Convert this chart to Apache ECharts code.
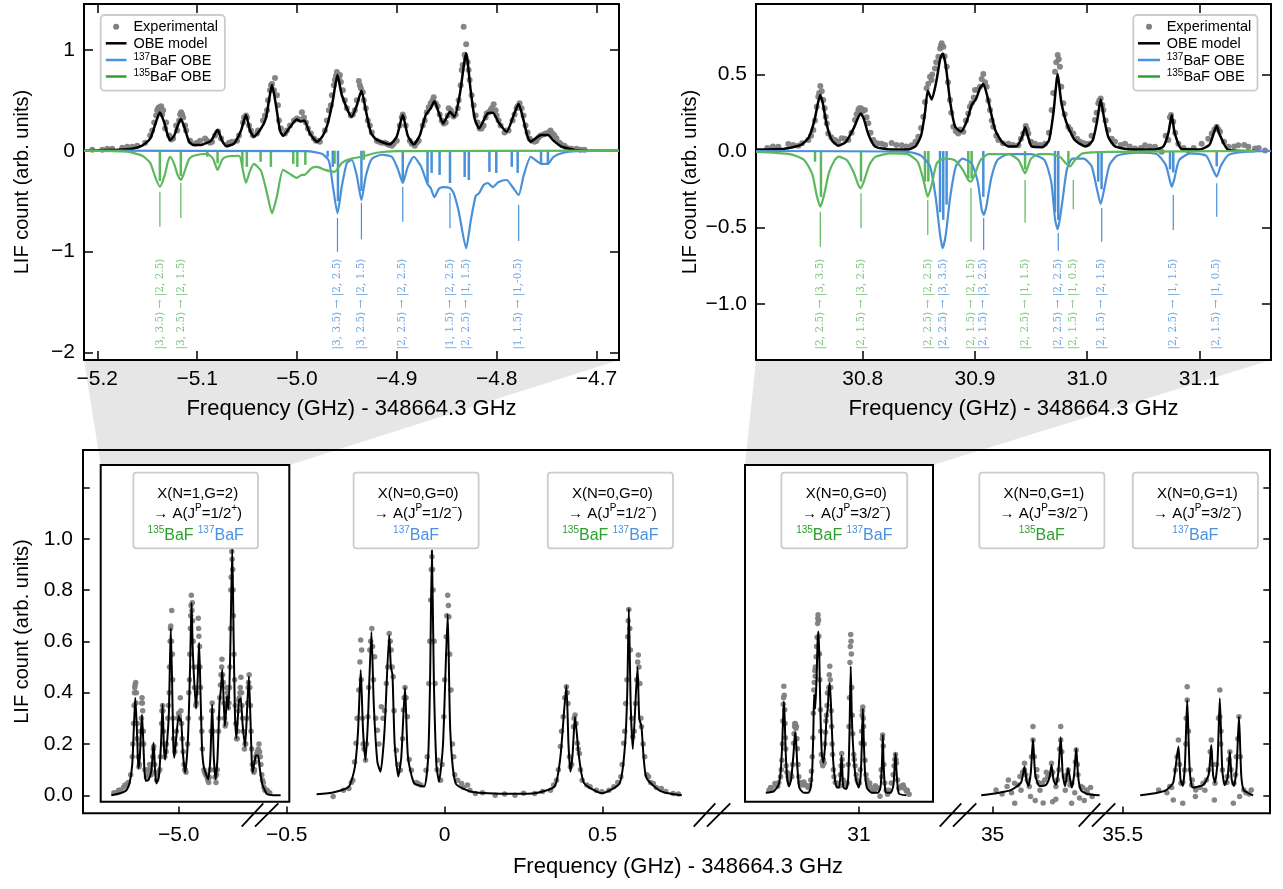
<!DOCTYPE html>
<html><head><meta charset="utf-8">
<script src="https://cdn.jsdelivr.net/npm/echarts@6/dist/echarts.min.js"></script>
<style>html,body{margin:0;padding:0;background:#fff}#c{width:1283px;height:889px}</style>
</head><body><div id="c"></div>
<script>
// ---------------- DATA ----------------
// Top-left panel: X(N=1,G=2) -> A(1/2+) region (GHz offset from 348664.3 GHz)
const tlModel = [[-5.2133,0],[-5.18,0.01],[-5.165,0.02],[-5.155,0.05],[-5.147,0.12],[-5.142,0.26],[-5.1373,0.38],[-5.133,0.28],[-5.129,0.14],[-5.127,0.106],[-5.123,0.15],[-5.119,0.26],[-5.1163,0.314],[-5.113,0.24],[-5.108,0.09],[-5.1036,0.056],[-5.095,0.06],[-5.086,0.1],[-5.0795,0.205],[-5.075,0.1],[-5.0707,0.046],[-5.063,0.07],[-5.056,0.2],[-5.0511,0.354],[-5.047,0.2],[-5.0432,0.139],[-5.036,0.22],[-5.0311,0.32],[-5.028,0.5],[-5.025,0.651],[-5.021,0.45],[-5.017,0.2],[-5.0139,0.146],[-5.008,0.22],[-5.0002,0.31],[-4.996,0.29],[-4.9926,0.30],[-4.987,0.17],[-4.9797,0.089],[-4.974,0.15],[-4.9691,0.27],[-4.964,0.5],[-4.9594,0.75],[-4.955,0.55],[-4.9451,0.337],[-4.940,0.45],[-4.9354,0.595],[-4.931,0.4],[-4.926,0.18],[-4.9203,0.11],[-4.9071,0.063],[-4.900,0.14],[-4.894,0.354],[-4.889,0.15],[-4.883,0.063],[-4.877,0.15],[-4.871,0.354],[-4.866,0.42],[-4.8623,0.49],[-4.858,0.38],[-4.8537,0.27],[-4.850,0.33],[-4.8467,0.387],[-4.8423,0.337],[-4.837,0.55],[-4.8305,0.965],[-4.826,0.6],[-4.822,0.32],[-4.8175,0.222],[-4.813,0.30],[-4.8089,0.371],[-4.8037,0.377],[-4.798,0.28],[-4.7899,0.189],[-4.783,0.35],[-4.7779,0.463],[-4.773,0.3],[-4.769,0.14],[-4.7658,0.089],[-4.760,0.13],[-4.7555,0.155],[-4.7486,0.155],[-4.743,0.1],[-4.735,0.04],[-4.7285,0.023],[-4.721,0.005],[-4.70,0],[-4.6774,0]];
const tlExp = [[-5.205,0.01],[-5.195,0.01],[-5.19,0.02],[-5.185,0.02],[-5.175,0.03],[-5.17,0.04],[-5.165,0.04],[-5.16,0.05],[-5.152,0.08],[-5.147,0.15],[-5.145,0.2],[-5.143,0.28],[-5.141,0.35],[-5.14,0.40],[-5.139,0.42],[-5.138,0.43],[-5.136,0.44],[-5.135,0.36],[-5.134,0.40],[-5.132,0.22],[-5.131,0.28],[-5.128,0.15],[-5.126,0.11],[-5.124,0.12],[-5.121,0.25],[-5.12,0.20],[-5.118,0.30],[-5.117,0.36],[-5.116,0.38],[-5.115,0.36],[-5.114,0.33],[-5.112,0.25],[-5.111,0.20],[-5.107,0.10],[-5.102,0.07],[-5.1,0.08],[-5.097,0.10],[-5.092,0.12],[-5.09,0.1],[-5.087,0.08],[-5.085,0.09],[-5.082,0.15],[-5.08,0.18],[-5.079,0.19],[-5.076,0.12],[-5.07,0.06],[-5.068,0.08],[-5.065,0.09],[-5.06,0.1],[-5.058,0.15],[-5.054,0.28],[-5.053,0.33],[-5.051,0.35],[-5.05,0.33],[-5.048,0.25],[-5.046,0.2],[-5.044,0.15],[-5.04,0.17],[-5.039,0.20],[-5.034,0.30],[-5.032,0.35],[-5.03,0.40],[-5.029,0.5],[-5.027,0.60],[-5.026,0.65],[-5.025,0.66],[-5.023,0.6],[-5.022,0.72],[-5.02,0.55],[-5.019,0.45],[-5.018,0.3],[-5.016,0.22],[-5.012,0.17],[-5.01,0.2],[-5.007,0.25],[-5.003,0.30],[-5.0,0.32],[-4.998,0.31],[-4.995,0.38],[-4.993,0.33],[-4.991,0.28],[-4.989,0.22],[-4.986,0.17],[-4.983,0.12],[-4.981,0.10],[-4.979,0.1],[-4.977,0.09],[-4.972,0.20],[-4.97,0.3],[-4.968,0.40],[-4.966,0.45],[-4.965,0.55],[-4.963,0.65],[-4.962,0.70],[-4.961,0.74],[-4.96,0.78],[-4.958,0.72],[-4.957,0.75],[-4.956,0.68],[-4.954,0.60],[-4.952,0.5],[-4.95,0.42],[-4.946,0.35],[-4.944,0.36],[-4.942,0.40],[-4.94,0.5],[-4.938,0.69],[-4.937,0.65],[-4.936,0.62],[-4.934,0.58],[-4.933,0.50],[-4.931,0.42],[-4.929,0.30],[-4.927,0.25],[-4.925,0.18],[-4.92,0.10],[-4.918,0.09],[-4.915,0.08],[-4.912,0.08],[-4.91,0.07],[-4.908,0.06],[-4.905,0.05],[-4.903,0.07],[-4.9,0.10],[-4.897,0.25],[-4.895,0.33],[-4.894,0.36],[-4.893,0.33],[-4.891,0.25],[-4.887,0.10],[-4.885,0.07],[-4.882,0.05],[-4.88,0.08],[-4.878,0.10],[-4.874,0.25],[-4.872,0.3],[-4.87,0.38],[-4.868,0.43],[-4.866,0.47],[-4.864,0.5],[-4.863,0.53],[-4.861,0.47],[-4.859,0.44],[-4.857,0.36],[-4.855,0.30],[-4.853,0.27],[-4.851,0.28],[-4.849,0.35],[-4.848,0.42],[-4.846,0.40],[-4.845,0.38],[-4.843,0.34],[-4.841,0.36],[-4.839,0.42],[-4.838,0.50],[-4.836,0.65],[-4.835,0.80],[-4.834,0.85],[-4.832,0.95],[-4.831,0.92],[-4.829,0.88],[-4.828,0.80],[-4.827,0.7],[-4.825,0.55],[-4.823,0.45],[-4.821,0.35],[-4.819,0.28],[-4.817,0.22],[-4.815,0.22],[-4.813,0.25],[-4.811,0.33],[-4.81,0.37],[-4.808,0.38],[-4.806,0.40],[-4.805,0.42],[-4.803,0.46],[-4.801,0.4],[-4.8,0.35],[-4.798,0.3],[-4.796,0.25],[-4.792,0.18],[-4.79,0.2],[-4.788,0.20],[-4.784,0.30],[-4.782,0.36],[-4.78,0.42],[-4.779,0.44],[-4.777,0.47],[-4.775,0.42],[-4.773,0.35],[-4.771,0.25],[-4.769,0.18],[-4.767,0.12],[-4.765,0.10],[-4.762,0.09],[-4.76,0.10],[-4.758,0.13],[-4.756,0.15],[-4.753,0.16],[-4.751,0.17],[-4.748,0.18],[-4.746,0.20],[-4.744,0.17],[-4.742,0.15],[-4.74,0.12],[-4.737,0.08],[-4.735,0.06],[-4.732,0.05],[-4.73,0.03],[-4.727,0.02],[-4.725,0.02],[-4.72,0.02],[-4.716,0.01],[-4.712,0.01]];
const tlExpTopOnly = [[-4.833,1.229],[-4.8305,1.054]];
const tlGreen = [[-5.2133,0],[-5.17,-0.01],[-5.155,-0.05],[-5.147,-0.12],[-5.142,-0.26],[-5.1373,-0.357],[-5.133,-0.26],[-5.129,-0.1],[-5.127,-0.06],[-5.123,-0.13],[-5.1195,-0.24],[-5.1163,-0.29],[-5.113,-0.22],[-5.108,-0.08],[-5.1036,-0.05],[-5.09,-0.03],[-5.084,-0.08],[-5.0795,-0.19],[-5.075,-0.09],[-5.0707,-0.06],[-5.058,-0.05],[-5.054,-0.2],[-5.0511,-0.317],[-5.047,-0.2],[-5.0432,-0.13],[-5.036,-0.2],[-5.03,-0.42],[-5.025,-0.62],[-5.02,-0.45],[-5.0139,-0.19],[-5.0055,-0.24],[-5.0002,-0.27],[-4.995,-0.24],[-4.9926,-0.24],[-4.985,-0.17],[-4.9797,-0.16],[-4.972,-0.19],[-4.9623,-0.21],[-4.955,-0.12],[-4.946,-0.08],[-4.9354,-0.06],[-4.92,-0.02],[-4.9,-0.005],[-4.6774,0]];
const tlBlue = [[-5.2133,0],[-4.99,-0.005],[-4.975,-0.03],[-4.968,-0.1],[-4.964,-0.35],[-4.9594,-0.62],[-4.955,-0.35],[-4.95,-0.12],[-4.9451,-0.09],[-4.94,-0.25],[-4.9354,-0.49],[-4.931,-0.25],[-4.925,-0.08],[-4.915,-0.04],[-4.905,-0.06],[-4.899,-0.18],[-4.894,-0.32],[-4.889,-0.16],[-4.883,-0.06],[-4.876,-0.15],[-4.8692,-0.33],[-4.866,-0.37],[-4.8623,-0.46],[-4.858,-0.38],[-4.854,-0.36],[-4.8467,-0.37],[-4.843,-0.42],[-4.838,-0.6],[-4.8305,-0.967],[-4.826,-0.7],[-4.821,-0.45],[-4.8175,-0.42],[-4.813,-0.34],[-4.8089,-0.32],[-4.8037,-0.36],[-4.798,-0.31],[-4.7899,-0.29],[-4.784,-0.36],[-4.7779,-0.44],[-4.773,-0.25],[-4.7658,-0.06],[-4.76,-0.1],[-4.7555,-0.13],[-4.7486,-0.13],[-4.743,-0.06],[-4.733,-0.02],[-4.72,-0.005],[-4.6774,0]];
const tlSticksGreen = [[-5.1373,-0.30],[-5.1163,-0.25],[-5.0898,-0.06],[-5.0795,-0.125],[-5.0547,-0.16],[-5.0502,-0.16],[-5.0364,-0.11],[-5.0261,-0.16],[-5.0037,-0.13],[-4.9996,-0.16],[-4.9916,-0.14],[-4.9623,-0.13],[-4.933,-0.09]];
const tlSticksBlue = [[-4.9692,-0.06],[-4.9641,-0.16],[-4.9589,-0.5],[-4.9354,-0.4],[-4.894,-0.3],[-4.8692,-0.32],[-4.8651,-0.22],[-4.8571,-0.24],[-4.8467,-0.32],[-4.832,-0.26],[-4.8278,-0.29],[-4.8072,-0.21],[-4.8003,-0.22],[-4.7848,-0.16],[-4.7789,-0.22],[-4.7555,-0.13],[-4.7486,-0.14]];
// [x, line top, line bottom, isotope, label]
const tlAnnot = [
  [-5.1373,-0.406,-0.753,'135','|3, 3.5⟩ → |2, 2.5⟩'],
  [-5.1163,-0.32,-0.667,'135','|3, 2.5⟩ → |2, 1.5⟩'],
  [-4.9594,-0.667,-1.001,'137','|3, 3.5⟩ → |2, 2.5⟩'],
  [-4.9354,-0.518,-0.878,'137','|3, 2.5⟩ → |2, 1.5⟩'],
  [-4.894,-0.36,-0.704,'137','|2, 2.5⟩ → |2, 2.5⟩'],
  [-4.8467,-0.419,-0.769,'137','|1, 1.5⟩ → |2, 2.5⟩'],
  [-4.8305,null,null,'137','|2, 2.5⟩ → |1, 1.5⟩'],
  [-4.7779,-0.538,-0.895,'137','|1, 1.5⟩ → |1,-0.5⟩']
];

// Top-right panel: X(N=0,G=0) -> A(3/2-) region
const trModel = [[30.705,0.01],[30.73,0.015],[30.745,0.04],[30.752,0.09],[30.757,0.2],[30.76,0.31],[30.7622,0.366],[30.7645,0.31],[30.768,0.17],[30.7725,0.07],[30.7783,0.035],[30.785,0.06],[30.792,0.15],[30.796,0.22],[30.7982,0.246],[30.801,0.21],[30.805,0.11],[30.811,0.03],[30.825,0.01],[30.84,0.01],[30.847,0.03],[30.852,0.1],[30.8555,0.25],[30.858,0.394],[30.8615,0.337],[30.8655,0.45],[30.869,0.6],[30.8713,0.638],[30.874,0.56],[30.878,0.32],[30.8823,0.16],[30.8876,0.127],[30.893,0.2],[30.8971,0.30],[30.901,0.34],[30.9045,0.41],[30.9075,0.438],[30.911,0.36],[30.918,0.14],[30.924,0.06],[30.9298,0.03],[30.937,0.03],[30.942,0.09],[30.9447,0.155],[30.9475,0.09],[30.9506,0.03],[30.96,0.025],[30.966,0.07],[30.97,0.25],[30.9738,0.503],[30.977,0.32],[30.9818,0.181],[30.9892,0.07],[30.999,0.03],[31.005,0.07],[31.009,0.2],[31.0121,0.337],[31.015,0.22],[31.019,0.09],[31.0249,0.03],[31.0398,0.01],[31.06,0.01],[31.068,0.03],[31.0725,0.12],[31.0754,0.235],[31.078,0.12],[31.0843,0.013],[31.1,0.01],[31.109,0.04],[31.113,0.12],[31.1155,0.163],[31.118,0.11],[31.1259,0.007],[31.1497,0]];
const trExp = [[30.715,0.02],[30.72,0.03],[30.7248,0.028],[30.7337,0.046],[30.738,0.04],[30.7426,0.035],[30.746,0.05],[30.7515,0.072],[30.754,0.1],[30.756,0.137],[30.7575,0.2],[30.759,0.29],[30.7604,0.355],[30.7612,0.38],[30.7622,0.425],[30.7635,0.39],[30.7649,0.333],[30.766,0.28],[30.767,0.224],[30.768,0.18],[30.7693,0.115],[30.772,0.09],[30.7753,0.072],[30.778,0.06],[30.7813,0.083],[30.784,0.08],[30.7872,0.072],[30.79,0.12],[30.7931,0.203],[30.7945,0.24],[30.7961,0.268],[30.797,0.28],[30.7985,0.279],[30.8,0.26],[30.802,0.268],[30.8035,0.22],[30.805,0.181],[30.807,0.12],[30.8095,0.072],[30.813,0.05],[30.8169,0.048],[30.82,0.04],[30.8258,0.052],[30.83,0.04],[30.8348,0.037],[30.839,0.03],[30.8437,0.037],[30.847,0.06],[30.8496,0.094],[30.852,0.15],[30.854,0.224],[30.8555,0.32],[30.857,0.41],[30.8585,0.44],[30.86,0.486],[30.8615,0.464],[30.862,0.5],[30.8644,0.54],[30.8655,0.58],[30.8674,0.616],[30.869,0.67],[30.8698,0.69],[30.8704,0.704],[30.8719,0.682],[30.873,0.62],[30.8749,0.551],[30.876,0.45],[30.8778,0.333],[30.879,0.25],[30.8808,0.159],[30.883,0.13],[30.8852,0.115],[30.887,0.14],[30.8897,0.126],[30.892,0.2],[30.8941,0.246],[30.8955,0.29],[30.8971,0.312],[30.899,0.35],[30.9001,0.399],[30.9025,0.4],[30.9045,0.42],[30.906,0.47],[30.9075,0.503],[30.909,0.45],[30.9105,0.42],[30.912,0.33],[30.9135,0.268],[30.915,0.2],[30.9164,0.159],[30.919,0.1],[30.9209,0.072],[30.925,0.05],[30.9298,0.048],[30.934,0.04],[30.9387,0.037],[30.941,0.08],[30.9431,0.115],[30.9453,0.163],[30.9465,0.14],[30.9476,0.115],[30.95,0.06],[30.9536,0.048],[30.958,0.04],[30.9625,0.048],[30.966,0.12],[30.9684,0.268],[30.9698,0.38],[30.9714,0.518],[30.9725,0.58],[30.9738,0.627],[30.9748,0.6],[30.9758,0.551],[30.977,0.42],[30.9788,0.312],[30.98,0.24],[30.9832,0.159],[30.985,0.14],[30.9877,0.115],[30.991,0.08],[30.9937,0.061],[30.997,0.05],[31.0011,0.048],[31.004,0.1],[31.007,0.203],[31.0085,0.25],[31.01,0.312],[31.011,0.33],[31.0121,0.344],[31.0135,0.3],[31.0145,0.268],[31.0165,0.2],[31.0189,0.137],[31.022,0.08],[31.0249,0.061],[31.03,0.04],[31.0338,0.048],[31.038,0.03],[31.0427,0.017],[31.048,0.02],[31.0516,0.037],[31.056,0.03],[31.0605,0.028],[31.0665,-0.004],[31.07,0.1],[31.0724,0.072],[31.0738,0.22],[31.0748,0.235],[31.0768,0.192],[31.0785,0.12],[31.0813,0.048],[31.086,0.02],[31.0902,0.004],[31.095,0.02],[31.1021,0.048],[31.108,0.08],[31.1111,0.115],[31.1135,0.14],[31.1155,0.159],[31.117,0.14],[31.1185,0.126],[31.122,0.06],[31.1259,0.028],[31.131,0.03],[31.1348,0.037],[31.14,0.04],[31.1437,0.028],[31.1497,0.017],[31.153,0.02],[31.1586,0.004]];
const trGreen = [[30.705,-0.005],[30.735,-0.02],[30.748,-0.06],[30.755,-0.15],[30.759,-0.29],[30.7622,-0.364],[30.7655,-0.29],[30.77,-0.14],[30.775,-0.06],[30.7783,-0.037],[30.786,-0.06],[30.792,-0.14],[30.796,-0.22],[30.7982,-0.244],[30.801,-0.2],[30.806,-0.09],[30.811,-0.04],[30.825,-0.015],[30.84,-0.02],[30.849,-0.07],[30.8545,-0.2],[30.858,-0.30],[30.8615,-0.22],[30.866,-0.08],[30.872,-0.05],[30.882,-0.06],[30.889,-0.12],[30.8941,-0.19],[30.8965,-0.20],[30.9,-0.15],[30.905,-0.06],[30.912,-0.02],[30.93,-0.02],[30.939,-0.06],[30.9447,-0.146],[30.95,-0.05],[30.957,-0.02],[30.967,-0.02],[30.976,-0.04],[30.981,-0.08],[30.9848,-0.10],[30.989,-0.06],[30.996,-0.015],[31.02,-0.005],[31.1497,0]];
const trBlue = [[30.705,0],[30.84,-0.005],[30.852,-0.03],[30.86,-0.1],[30.865,-0.3],[30.869,-0.55],[30.8713,-0.636],[30.874,-0.55],[30.878,-0.3],[30.883,-0.1],[30.889,-0.05],[30.897,-0.08],[30.9025,-0.2],[30.906,-0.38],[30.9078,-0.418],[30.91,-0.37],[30.9145,-0.18],[30.92,-0.06],[30.93,-0.02],[30.95,-0.02],[30.962,-0.06],[30.968,-0.2],[30.9715,-0.45],[30.9738,-0.512],[30.976,-0.43],[30.9785,-0.3],[30.982,-0.12],[30.987,-0.05],[30.997,-0.05],[31.004,-0.1],[31.0085,-0.24],[31.0121,-0.346],[31.0155,-0.24],[31.02,-0.09],[31.027,-0.03],[31.045,-0.01],[31.062,-0.02],[31.07,-0.09],[31.074,-0.2],[31.0754,-0.233],[31.0775,-0.19],[31.082,-0.06],[31.092,-0.015],[31.106,-0.03],[31.1115,-0.11],[31.1155,-0.168],[31.119,-0.1],[31.126,-0.025],[31.14,-0.005],[31.164,0]];
const trSticksGreen = [[30.7575,-0.07],[30.7628,-0.3],[30.7985,-0.2],[30.8555,-0.2],[30.8585,-0.2],[30.8941,-0.18],[30.8971,-0.18],[30.9447,-0.12],[30.9833,-0.08]];
const trSticksBlue = [[30.8689,-0.4],[30.8718,-0.45],[30.8748,-0.35],[30.9075,-0.3],[30.9714,-0.4],[30.9743,-0.45],[31.0099,-0.2],[31.0129,-0.25],[31.0739,-0.12],[31.0768,-0.14],[31.1155,-0.1]];
const trAnnot = [
  [30.7622,-0.397,-0.625,'135','|2, 2.5⟩ → |3, 3.5⟩'],
  [30.7985,-0.276,-0.505,'135','|2, 1.5⟩ → |3, 2.5⟩'],
  [30.858,-0.32,-0.549,'135','|2, 2.5⟩ → |2, 2.5⟩'],
  [30.8718,null,null,'137','|2, 2.5⟩ → |3, 3.5⟩'],
  [30.8965,-0.242,-0.593,'135','|2, 1.5⟩ → |2, 1.5⟩'],
  [30.9078,-0.438,-0.647,'137','|2, 1.5⟩ → |3, 2.5⟩'],
  [30.9447,-0.19,-0.469,'135','|2, 2.5⟩ → |1, 1.5⟩'],
  [30.9743,-0.536,-0.652,'137','|2, 2.5⟩ → |2, 2.5⟩'],
  [30.9877,-0.19,-0.381,'135','|2, 1.5⟩ → |1, 0.5⟩'],
  [31.013,-0.373,-0.593,'137','|2, 1.5⟩ → |2, 1.5⟩'],
  [31.0768,-0.288,-0.516,'137','|2, 2.5⟩ → |1, 1.5⟩'],
  [31.1155,-0.211,-0.429,'137','|2, 1.5⟩ → |1, 0.5⟩']
];

// Bottom panel extra segments
const s2Model = [[-0.405,0.004],[-0.35,0.012],[-0.303,0.034],[-0.284,0.11],[-0.274,0.25],[-0.2655,0.488],[-0.258,0.25],[-0.2503,0.1375],[-0.243,0.28],[-0.2316,0.637],[-0.224,0.35],[-0.2128,0.13],[-0.2028,0.092],[-0.19,0.254],[-0.1753,0.624],[-0.17,0.50],[-0.165,0.47],[-0.158,0.2],[-0.1465,0.073],[-0.137,0.15],[-0.1253,0.42],[-0.116,0.15],[-0.0965,0.047],[-0.065,0.034],[-0.052,0.15],[-0.046,0.45],[-0.0402,0.955],[-0.034,0.45],[-0.026,0.12],[-0.0177,0.053],[-0.005,0.2],[0.0098,0.706],[0.018,0.25],[0.0348,0.047],[0.085,0.014],[0.223,0.006],[0.285,0.008],[0.348,0.035],[0.3665,0.15],[0.3854,0.426],[0.392,0.2],[0.398,0.092],[0.405,0.16],[0.4127,0.306],[0.4253,0.15],[0.4418,0.047],[0.498,0.008],[0.554,0.047],[0.5706,0.19],[0.578,0.4],[0.583,0.728],[0.589,0.35],[0.5956,0.18],[0.6105,0.50],[0.616,0.3],[0.623,0.267],[0.638,0.07],[0.686,0.015],[0.7506,0]];
const s2Exp = [[-0.3528,-0.005],[-0.32,0.02],[-0.3029,0.027],[-0.295,0.05],[-0.2905,0.059],[-0.285,0.13],[-0.2804,0.2026],[-0.277,0.3],[-0.2715,0.41],[-0.268,0.52],[-0.2655,0.605],[-0.264,0.45],[-0.2625,0.566],[-0.26,0.3],[-0.2579,0.2],[-0.255,0.18],[-0.2503,0.137],[-0.247,0.2],[-0.2427,0.306],[-0.24,0.42],[-0.2367,0.566],[-0.234,0.6],[-0.2304,0.65],[-0.228,0.58],[-0.225,0.45],[-0.2215,0.54],[-0.218,0.3],[-0.2127,0.254],[-0.208,0.2],[-0.2003,0.345],[-0.195,0.3],[-0.19,0.33],[-0.1842,0.436],[-0.18,0.5],[-0.1753,0.631],[-0.172,0.6],[-0.169,0.566],[-0.166,0.5],[-0.1627,0.462],[-0.16,0.33],[-0.1528,0.176],[-0.148,0.12],[-0.1402,0.098],[-0.133,0.22],[-0.1303,0.332],[-0.128,0.38],[-0.1253,0.42],[-0.122,0.38],[-0.1177,0.306],[-0.112,0.14],[-0.105,0.098],[-0.09,0.05],[-0.0838,0.046],[-0.075,0.04],[-0.0588,0.098],[-0.055,0.15],[-0.05,0.436],[-0.047,0.6],[-0.044,0.761],[-0.042,0.88],[-0.0402,0.93],[-0.038,0.88],[-0.0364,0.8],[-0.033,0.6],[-0.03,0.436],[-0.024,0.1],[-0.0212,0.137],[-0.0126,0.059],[-0.008,0.12],[-0.0025,0.306],[0.0,0.45],[0.0051,0.618],[0.007,0.7],[0.0098,0.78],[0.012,0.74],[0.0136,0.696],[0.016,0.55],[0.02,0.41],[0.025,0.2],[0.0288,0.15],[0.032,0.08],[0.0412,0.059],[0.0538,0.046],[0.06,0.03],[0.0725,0.04],[0.08,0.02],[0.0975,0.007],[0.12,0.01],[0.1601,0],[0.19,0.005],[0.2228,0],[0.25,0.008],[0.2851,0.007],[0.31,0.015],[0.3351,0.02],[0.345,0.04],[0.3541,0.059],[0.36,0.1],[0.3665,0.19],[0.37,0.25],[0.3753,0.306],[0.38,0.38],[0.3854,0.423],[0.388,0.4],[0.3905,0.358],[0.395,0.15],[0.398,0.111],[0.402,0.12],[0.4079,0.267],[0.41,0.3],[0.4127,0.313],[0.416,0.28],[0.4203,0.203],[0.423,0.18],[0.4266,0.163],[0.43,0.1],[0.4354,0.059],[0.45,0.04],[0.4604,0.033],[0.48,0.02],[0.498,0.014],[0.52,0.02],[0.5354,0.033],[0.548,0.05],[0.5579,0.072],[0.562,0.12],[0.5668,0.203],[0.57,0.25],[0.5731,0.358],[0.577,0.45],[0.5794,0.618],[0.581,0.68],[0.583,0.724],[0.586,0.65],[0.588,0.566],[0.592,0.3],[0.5956,0.228],[0.6,0.25],[0.6044,0.358],[0.608,0.45],[0.611,0.52],[0.613,0.547],[0.615,0.5],[0.618,0.436],[0.621,0.3],[0.6231,0.267],[0.628,0.2],[0.6332,0.15],[0.64,0.08],[0.6456,0.072],[0.652,0.05],[0.6605,0.046],[0.67,0.03],[0.686,0.027],[0.7,0.015],[0.7232,0.007],[0.74,0.005]];
const s4Model = [[34.964,0],[35.02,0.01],[35.0576,0.02],[35.09,0.05],[35.101,0.111],[35.107,0.06],[35.1136,0.036],[35.121,0.09],[35.1278,0.218],[35.135,0.08],[35.1487,0.036],[35.1687,0.04],[35.18,0.07],[35.1864,0.118],[35.193,0.06],[35.2003,0.04],[35.208,0.09],[35.2155,0.226],[35.222,0.08],[35.2294,0.036],[35.2389,0.105],[35.2506,0.03],[35.258,0.08],[35.2646,0.183],[35.271,0.07],[35.2797,0.02],[35.3,0.005],[35.3386,0]];
const s4Exp = [[35.0108,0.021],[35.0459,0.034],[35.0693,0.047],[35.0867,0.073],[35.101,0.125],[35.101,0.099],[35.1161,0.034],[35.1278,0.216],[35.1278,0.268],[35.1396,0.073],[35.1571,0.047],[35.1747,0.073],[35.1864,0.125],[35.2003,0.034],[35.2155,0.216],[35.2155,0.268],[35.2272,0.073],[35.2389,0.099],[35.2506,0.047],[35.2646,0.177],[35.2797,0.034],[35.2975,0.021],[35.3152,-0.005],[35.07,-0.031],[35.12,-0.005],[35.16,-0.03],[35.2,-0.015],[35.25,-0.031],[35.29,-0.02],[35.05,0.06],[35.14,0.1],[35.17,0.09],[35.24,0.06],[35.27,0.08],[35.03,0.005],[35.09,0.02],[35.11,0.06],[35.15,0.02],[35.21,0.1],[35.23,0.02],[35.26,0.01],[35.31,0.03],[35.08,0.04],[35.095,0.09],[35.105,0.08],[35.123,0.15],[35.132,0.15],[35.145,0.05],[35.165,0.06],[35.18,0.08],[35.19,0.09],[35.205,0.06],[35.212,0.18],[35.219,0.17],[35.235,0.08],[35.245,0.04],[35.262,0.13],[35.268,0.12],[35.285,0.03],[35.3,0.01],[35.06,0.01],[35.135,-0.02],[35.19,-0.025],[35.275,-0.01]];
const s5Model = [[35.5554,0],[35.61,0.01],[35.6377,0.02],[35.66,0.05],[35.6763,0.19],[35.683,0.06],[35.6902,0.036],[35.697,0.12],[35.7041,0.371],[35.712,0.1],[35.7218,0.03],[35.7544,0.04],[35.772,0.08],[35.7803,0.196],[35.786,0.08],[35.7921,0.05],[35.8,0.13],[35.8073,0.378],[35.815,0.1],[35.8225,0.04],[35.832,0.07],[35.839,0.17],[35.845,0.06],[35.8519,0.036],[35.86,0.1],[35.868,0.306],[35.875,0.08],[35.8833,0.02],[35.9127,0]];
const s5Exp = [[35.6139,0.021],[35.649,0.034],[35.6668,0.099],[35.6763,0.216],[35.6843,0.047],[35.6959,0.099],[35.7041,0.423],[35.7041,0.371],[35.7136,0.099],[35.731,0.021],[35.7544,0.047],[35.7721,0.099],[35.7803,0.216],[35.7921,0.047],[35.8073,0.41],[35.8073,0.306],[35.8155,0.099],[35.8307,0.073],[35.839,0.17],[35.8519,0.047],[35.868,0.306],[35.8833,0.021],[35.9067,0.021],[35.66,-0.018],[35.69,-0.031],[35.73,-0.005],[35.79,-0.018],[35.85,-0.031],[35.87,-0.005],[35.9,0.005],[35.72,0.06],[35.83,0.05],[35.64,0.01],[35.7,0.2],[35.76,0.02],[35.81,0.2],[35.86,0.15],[35.672,0.15],[35.68,0.12],[35.69,0.05],[35.701,0.3],[35.708,0.25],[35.718,0.04],[35.745,0.03],[35.765,0.06],[35.777,0.17],[35.784,0.12],[35.797,0.12],[35.803,0.3],[35.811,0.25],[35.826,0.05],[35.836,0.14],[35.843,0.1],[35.857,0.08],[35.864,0.22],[35.872,0.15],[35.89,0.01],[35.655,0.03]];

// Tick values
const tlXTicks = [-5.2,-5.1,-5.0,-4.9,-4.8,-4.7];
const tlYTicks = [-2,-1,0,1];
const trXTicks = [30.8,30.9,31.0,31.1];
const trYTicks = [-1.0,-0.5,0,0.5];
const botYTicks = [0,0.2,0.4,0.6,0.8,1.0,1.2];
const botYLabels = [0,0.2,0.4,0.6,0.8,1.0];
const segTicks = [[-5.0],[-0.5,0,0.5],[31],[35],[35.5]];

// Bottom panel label boxes
const boxTitles = ['X(N=1,G=2)','X(N=0,G=0)','X(N=0,G=0)','X(N=0,G=0)','X(N=0,G=1)','X(N=0,G=1)'];
const boxJ = ['1/2','1/2','1/2','3/2','3/2','3/2'];
const boxParity = ['+','−','−','−','−','−'];
const boxIsotopes = [['135','137'],['137'],['135','137'],['135','137'],['135'],['137']];

// ---------------- RENDER ----------------
const FONT = '"Liberation Sans", Arial, Helvetica, sans-serif';
const SERIF = '"DejaVu Serif", "Liberation Serif", serif';
const BLUE = '#4a90d9', GREEN = '#5cb85c', GREEN_T = '#2ca02c', BLUE_T = '#4a90e2', GRAY = '#808080';
const isoColor = i => i === '135' ? GREEN : BLUE;
const minus = s => s.replace('-', '−');
const fmt1 = v => minus((Math.abs(v) < 1e-9 ? 0 : v).toFixed(1));
const fmt0 = v => minus(String(Math.round(v)));

const chart = echarts.init(document.getElementById('c'), null, {renderer: 'canvas'});

const grids = [
  {left:84, top:4, width:535, height:356},
  {left:756, top:4, width:515, height:356},
  {left:83, top:450, width:206.3, height:363.3},
  {left:280, top:450, width:432, height:363.3},
  {left:712, top:450, width:248, height:363.3},
  {left:960, top:450, width:145, height:363.3},
  {left:1105, top:450, width:165, height:363.3}
];

function ax(o) {
  return {
    type:'value', gridIndex:o.g, min:o.min, max:o.max, position:o.pos,
    axisLine:{show:!!o.line, onZero:false, lineStyle:{color:'#000', width:2}},
    axisTick:{show:!!o.ticks, inside:true, length:o.tl || 9, lineStyle:{color:'#000', width:1.5}, customValues:o.ticks},
    axisLabel:{show:!!o.labels, customValues:o.labels, formatter:o.fmt, margin:o.margin || 9, color:'#000', fontFamily:FONT, fontSize:21},
    splitLine:{show:false}
  };
}

const xAxes = [
  ax({g:0, min:-5.2133, max:-4.6774, pos:'bottom', line:true, ticks:tlXTicks, labels:tlXTicks, fmt:fmt1}),
  ax({g:0, min:-5.2133, max:-4.6774, pos:'top', line:true, ticks:tlXTicks}),
  ax({g:1, min:30.7049, max:31.1639, pos:'bottom', line:true, ticks:trXTicks, labels:trXTicks, fmt:fmt1}),
  ax({g:1, min:30.7049, max:31.1639, pos:'top', line:true, ticks:trXTicks}),
  ax({g:2, min:-5.3028, max:-4.65, pos:'bottom', ticks:segTicks[0], labels:segTicks[0], fmt:fmt1, tl:6.7, margin:11}),
  ax({g:3, min:-0.5209, max:0.8462, pos:'bottom', ticks:segTicks[1], labels:segTicks[1], fmt:v => Math.abs(v) < 1e-9 ? '0' : fmt1(v), tl:6.7, margin:11}),
  ax({g:4, min:30.5348, max:31.3196, pos:'bottom', ticks:segTicks[2], labels:segTicks[2], fmt:fmt0, tl:6.7, margin:11}),
  ax({g:5, min:34.8968, max:35.3557, pos:'bottom', ticks:segTicks[3], labels:segTicks[3], fmt:fmt0, tl:6.7, margin:11}),
  ax({g:6, min:35.444, max:35.9661, pos:'bottom', ticks:segTicks[4], labels:segTicks[4], fmt:v => v.toFixed(1), tl:6.7, margin:11})
];
const yAxes = [
  ax({g:0, min:-2.074, max:1.454, pos:'left', line:true, ticks:tlYTicks, labels:tlYTicks, fmt:fmt0}),
  ax({g:0, min:-2.074, max:1.454, pos:'right', line:true, ticks:tlYTicks}),
  ax({g:1, min:-1.366, max:0.961, pos:'left', line:true, ticks:trYTicks, labels:trYTicks, fmt:fmt1}),
  ax({g:1, min:-1.366, max:0.961, pos:'right', line:true, ticks:trYTicks}),
  ax({g:2, min:-0.0701, max:1.3457, pos:'left', ticks:botYTicks, labels:botYLabels, fmt:fmt1, tl:6.7, margin:10}),
  ax({g:3, min:-0.0701, max:1.3457, pos:'left'}),
  ax({g:4, min:-0.0701, max:1.3457, pos:'left'}),
  ax({g:5, min:-0.0701, max:1.3457, pos:'left'}),
  ax({g:6, min:-0.0701, max:1.3457, pos:'right', ticks:botYTicks, tl:6.7})
];

function lineS(xi, yi, data, color, w, z) {
  return {type:'line', xAxisIndex:xi, yAxisIndex:yi, data, showSymbol:false, symbol:'none',
    lineStyle:{color, width:w}, itemStyle:{color}, z, smooth:0.2, silent:true, clip:true};
}
function scatS(xi, yi, data, size, z) {
  return {type:'scatter', xAxisIndex:xi, yAxisIndex:yi, data, symbolSize:size,
    itemStyle:{color:GRAY, opacity:0.95}, z, silent:true, clip:true};
}
function segS(xi, yi, data, color, w, z, fromZero) {
  return {type:'custom', xAxisIndex:xi, yAxisIndex:yi, data, z, silent:true, clip:true,
    renderItem:(p, api) => {
      const x = api.value(0);
      const a = api.coord([x, fromZero ? 0 : api.value(1)]);
      const b = api.coord([x, fromZero ? api.value(1) : api.value(2)]);
      return {type:'line', shape:{x1:a[0], y1:a[1], x2:b[0], y2:b[1]}, style:{stroke:color, lineWidth:w}};
    }};
}
function annotLabels(xi, yi, ann, yLab) {
  return {type:'scatter', xAxisIndex:xi, yAxisIndex:yi, symbolSize:2, itemStyle:{color:'rgba(0,0,0,0)'}, z:6, silent:true,
    data: ann.map(a => ({value:[a[0], yLab], name:a[4], label:{color:isoColor(a[3])}})),
    label:{show:true, position:'inside', rotate:90, formatter:'{b}', fontFamily:SERIF, fontSize:10.5}};
}
function panelSeries(xi, yi, model, exp, expExtra, green, blue, sg, sb, ann, yLab) {
  const annG = ann.filter(a => a[1] !== null && a[3] === '135').map(a => [a[0], a[1], a[2]]);
  const annB = ann.filter(a => a[1] !== null && a[3] === '137').map(a => [a[0], a[1], a[2]]);
  const out = [
    scatS(xi, yi, exp, 6, 1),
    segS(xi, yi, sg, GREEN, 2.5, 2, true),
    segS(xi, yi, sb, BLUE, 2.5, 2, true),
    segS(xi, yi, annG, GREEN, 1.2, 2, false),
    segS(xi, yi, annB, BLUE, 1.2, 2, false),
    lineS(xi, yi, model, '#000', 2.5, 3),
    lineS(xi, yi, blue, BLUE, 2.2, 4),
    lineS(xi, yi, green, GREEN, 2.2, 5),
    annotLabels(xi, yi, ann, yLab)
  ];
  if (expExtra) out.push(scatS(xi, yi, expExtra, 6, 1));
  return out;
}

const series = [
  ...panelSeries(0, 0, tlModel, tlExp, tlExpTopOnly, tlGreen, tlBlue, tlSticksGreen, tlSticksBlue, tlAnnot, -1.519),
  ...panelSeries(2, 2, trModel, trExp, null, trGreen, trBlue, trSticksGreen, trSticksBlue, trAnnot, -1.0),
  scatS(4, 4, tlExp, 5.5, 1), lineS(4, 4, tlModel, '#000', 2, 3),
  scatS(5, 5, s2Exp, 5.5, 1), lineS(5, 5, s2Model, '#000', 2, 3),
  scatS(6, 6, trExp, 5.5, 1), lineS(6, 6, trModel, '#000', 2, 3),
  scatS(7, 7, s4Exp, 5.5, 1), lineS(7, 7, s4Model, '#000', 2, 3),
  scatS(8, 8, s5Exp, 5.5, 1), lineS(8, 8, s5Model, '#000', 2, 3)
];

// ---------- graphics ----------
const G = [];
const font = (s, f) => s + 'px ' + (f || FONT);
function text(x, y, t, size, extra) {
  G.push(Object.assign({type:'text', x, y, z:50, style:{text:t, font:font(size), fill:'#000', align:'center', verticalAlign:'middle'}}, extra || {}));
}
// zoom connectors
G.push({type:'polygon', z:0, shape:{points:[[84,360],[619,360],[289.3,465],[100.7,465]]}, style:{fill:'#e6e6e6'}});
G.push({type:'polygon', z:0, shape:{points:[[756,360],[1271,360],[933,465],[745,465]]}, style:{fill:'#e6e6e6'}});
// bottom frame and insets
G.push({type:'rect', z:40, shape:{x:83, y:450, width:1187, height:363.3}, style:{fill:null, stroke:'#000', lineWidth:2}});
G.push({type:'rect', z:40, shape:{x:100.7, y:465, width:188.6, height:336.7}, style:{fill:null, stroke:'#000', lineWidth:2}});
G.push({type:'rect', z:40, shape:{x:745, y:465, width:188, height:336.7}, style:{fill:null, stroke:'#000', lineWidth:2}});
// axis break marks
[260, 712, 958, 1097].forEach(c => {
  G.push({type:'line', z:41, shape:{x1:c-18.3, y1:826.7, x2:c+3.3, y2:803.3}, style:{stroke:'#000', lineWidth:1.8}});
  G.push({type:'line', z:41, shape:{x1:c-5, y1:826.7, x2:c+18.3, y2:803.3}, style:{stroke:'#000', lineWidth:1.8}});
});
// label boxes
const boxRects = [[133.4,472.7,124.6,75.6],[353.6,472.7,125,75.6],[547.8,472.7,125.2,75.6],[781.4,472.7,125.8,75.6],[979.3,472.7,125.1,75.6],[1132.8,472.7,125.1,75.6]];
const supRich = {
  n:{fontSize:15, fontFamily:FONT, fill:'#000', lineHeight:18, verticalAlign:'bottom'},
  s:{fontSize:10, fontFamily:FONT, fill:'#000', lineHeight:18, verticalAlign:'top'},
  g1:{fontSize:10, fontFamily:FONT, fill:GREEN_T, lineHeight:18, verticalAlign:'top'},
  g2:{fontSize:16, fontFamily:FONT, fill:GREEN_T, lineHeight:18, verticalAlign:'bottom'},
  b1:{fontSize:10, fontFamily:FONT, fill:BLUE_T, lineHeight:18, verticalAlign:'top'},
  b2:{fontSize:16, fontFamily:FONT, fill:BLUE_T, lineHeight:18, verticalAlign:'bottom'}
};
boxRects.forEach((r, i) => {
  G.push({type:'rect', z:45, shape:{x:r[0], y:r[1], width:r[2], height:r[3], r:3}, style:{fill:'#fff', stroke:'#cccccc', lineWidth:1.8}});
  const cx = r[0] + r[2] / 2 + 2;
  G.push({type:'text', x:cx, y:492.5, z:50, style:{text:'{n|' + boxTitles[i] + '}', rich:supRich, align:'center', verticalAlign:'middle'}});
  G.push({type:'text', x:cx, y:512, z:50, style:{text:'{n|→ A(J}{s|P}{n|=' + boxJ[i] + '}{s|' + boxParity[i] + '}{n|)}', rich:supRich, align:'center', verticalAlign:'middle'}});
  const iso = boxIsotopes[i].map(k => k === '135' ? '{g1|135}{g2|BaF}' : '{b1|137}{b2|BaF}').join('{n| }');
  G.push({type:'text', x:cx - 2, y:534.5, z:50, style:{text:iso, rich:supRich, align:'center', verticalAlign:'middle'}});
});
// legends
function legend(bx, lx0, lx1, tx) {
  G.push({type:'rect', z:45, shape:{x:bx, y:15, width:124.2, height:75.7, r:4}, style:{fill:'rgba(255,255,255,0.85)', stroke:'#cccccc', lineWidth:1.8}});
  const ys = [26.7, 43.3, 60, 76.5];
  G.push({type:'circle', z:46, shape:{cx:(lx0 + lx1) / 2, cy:ys[0], r:3}, style:{fill:GRAY}});
  G.push({type:'line', z:46, shape:{x1:lx0, y1:ys[1], x2:lx1, y2:ys[1]}, style:{stroke:'#000', lineWidth:2.5}});
  G.push({type:'line', z:46, shape:{x1:lx0, y1:ys[2], x2:lx1, y2:ys[2]}, style:{stroke:BLUE_T, lineWidth:2.5}});
  G.push({type:'line', z:46, shape:{x1:lx0, y1:ys[3], x2:lx1, y2:ys[3]}, style:{stroke:GREEN_T, lineWidth:2.5}});
  const rich = {n:{fontSize:14.5, fontFamily:FONT, fill:'#000', lineHeight:16, verticalAlign:'bottom'}, s:{fontSize:10, fontFamily:FONT, fill:'#000', lineHeight:16, verticalAlign:'top'}};
  ['{n|Experimental}', '{n|OBE model}', '{s|137}{n|BaF OBE}', '{s|135}{n|BaF OBE}'].forEach((t, k) => {
    G.push({type:'text', x:tx, y:ys[k], z:46, style:{text:t, rich, align:'left', verticalAlign:'middle'}});
  });
}
legend(100.7, 105.8, 126.5, 133.4);
legend(1133.3, 1138, 1160, 1166.7);
// axis titles
const XT = 'Frequency (GHz) - 348664.3 GHz', YT = 'LIF count (arb. units)';
text(351.5, 409, XT, 22);
text(1013.5, 409, XT, 22);
text(678, 867, XT, 22);
text(22, 182, YT, 20, {rotation:Math.PI / 2});
text(690, 182, YT, 20, {rotation:Math.PI / 2});
text(22, 631.5, YT, 20, {rotation:Math.PI / 2});

chart.setOption({
  animation:false,
  backgroundColor:'#fff',
  grid:grids,
  xAxis:xAxes,
  yAxis:yAxes,
  series,
  graphic:{elements:G}
});
</script></body></html>
